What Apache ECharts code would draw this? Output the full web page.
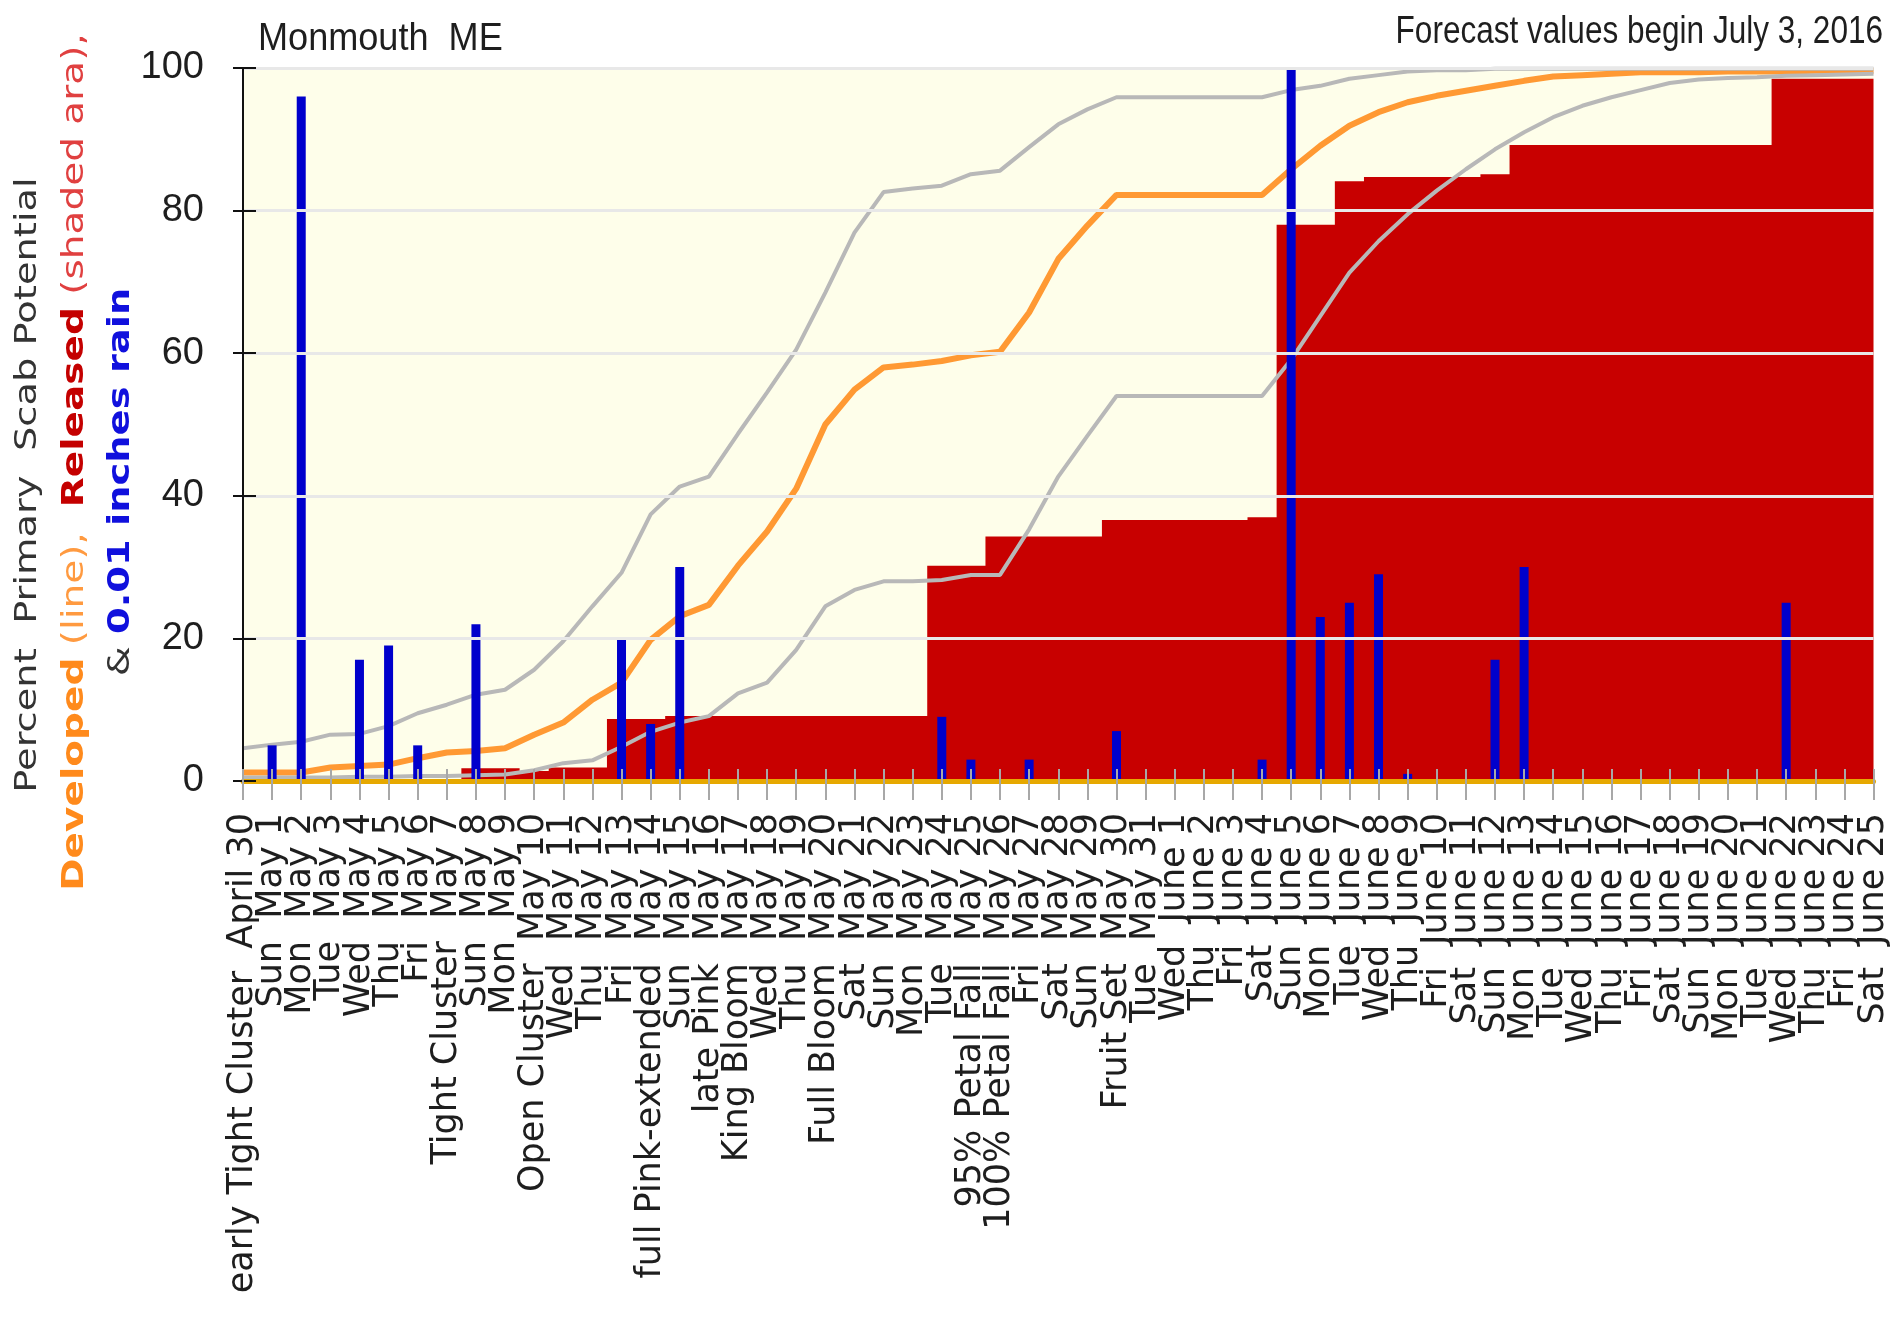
<!DOCTYPE html>
<html>
<head>
<meta charset="utf-8">
<script src="https://cdn.jsdelivr.net/npm/echarts@6/dist/echarts.min.js"></script>
<style>
html,body{margin:0;padding:0;background:#fff;}
#chart{width:1891px;height:1327px;}
</style>
</head>
<body>
<div id="chart"></div>
<script>
const titleText = 'Monmouth  ME';
const forecastText = 'Forecast values begin July 3, 2016';

const categories = [
  'early Tight Cluster  April 30','Sun  May 1','Mon  May 2','Tue  May 3','Wed  May 4','Thu  May 5','Fri  May 6',
  'Tight Cluster  May 7','Sun  May 8','Mon  May 9','Open Cluster  May 10','Wed  May 11','Thu  May 12','Fri  May 13',
  'full Pink-extended  May 14','Sun  May 15','late Pink  May 16','King Bloom  May 17','Wed  May 18','Thu  May 19',
  'Full Bloom  May 20','Sat  May 21','Sun  May 22','Mon  May 23','Tue  May 24','95% Petal Fall  May 25',
  '100% Petal Fall  May 26','Fri  May 27','Sat  May 28','Sun  May 29','Fruit Set  May 30','Tue  May 31',
  'Wed  June 1','Thu  June 2','Fri  June 3','Sat  June 4','Sun  June 5','Mon  June 6','Tue  June 7','Wed  June 8',
  'Thu  June 9','Fri  June 10','Sat  June 11','Sun  June 12','Mon  June 13','Tue  June 14','Wed  June 15',
  'Thu  June 16','Fri  June 17','Sat  June 18','Sun  June 19','Mon  June 20','Tue  June 21','Wed  June 22',
  'Thu  June 23','Fri  June 24','Sat  June 25'
];

// rain in 0.01 inches
const rain = [0,5,96,0,17,19,5,0,22,0, 0,0,0,20,8,30,0,0,0,0, 0,0,0,0,9,3,0,3,0,0,
  7,0,0,0,0,3,100,23,25,29, 1,0,0,17,30,0,0,0,0,0, 0,0,0,25,0,0,0];

// released (shaded area, %)
const released = [0,0,0,0,0,0,0,0,1.8,1.8, 1.4,1.9,1.9,8.7,8.7,9.1,9.1,9.1,9.1,9.1,
  9.1,9.1,9.1,9.1,30.2,30.2,34.3,34.3,34.3,34.3, 36.6,36.6,36.6,36.6,36.6,37.0,78,78,84.1,84.7,
  84.7,84.7,84.7,85.1,89.2,89.2,89.2,89.2,89.2,89.2, 89.2,89.2,89.2,98.5,98.5,98.5,98.5];

// developed (line, %)
const developed = [1.2,1.2,1.2,1.9,2.1,2.3,3.2,4.0,4.2,4.6, 6.5,8.2,11.4,13.8,19.8,23.1,24.7,30.2,35.0,41.0,
  50.0,54.9,58.0,58.4,58.9,59.7,60.2,65.7,73.2,77.9, 82.2,82.2,82.2,82.2,82.2,82.2,85.8,89.1,91.9,93.8,
  95.2,96.1,96.8,97.5,98.2,98.8,99.0,99.2,99.4,99.4, 99.4,99.5,99.5,99.5,99.6,99.6,99.6];

// upper / lower bounds of developed (grey lines, %)
const upperBound = [4.6,5.1,5.5,6.5,6.6,7.7,9.5,10.7,12.1,12.8, 15.6,19.6,24.5,29.2,37.4,41.3,42.7,48.7,54.5,60.5,
  68.5,76.9,82.6,83.1,83.5,85.1,85.6,88.9,92.1,94.2, 95.9,95.9,95.9,95.9,95.9,95.9,96.9,97.5,98.5,99.0,
  99.5,99.7,99.7,99.9,99.9,99.9,99.9,99.9,99.9,99.9, 99.9,99.9,99.9,99.9,99.9,99.9,99.9];
const lowerBound = [0.5,0.5,0.5,0.5,0.6,0.6,0.7,0.7,0.8,0.9, 1.5,2.5,2.9,4.8,6.9,8.2,9.1,12.3,13.8,18.4,
  24.5,26.8,28.0,28.0,28.2,28.9,28.9,35.3,42.7,48.4, 54.0,54.0,54.0,54.0,54.0,54.0,59.1,65.2,71.3,75.7,
  79.5,82.8,85.8,88.6,91.0,93.1,94.7,95.9,96.9,97.9, 98.4,98.6,98.7,98.9,99.0,99.1,99.2];

const yMin = 0, yMax = 100, yStep = 20;

const chart = echarts.init(document.getElementById('chart'), null, {renderer: 'canvas'});

const gridLeft = 243, gridTop = 68, gridRight = 11, gridBottom = 546;

const option = {
  animation: false,
  backgroundColor: '#ffffff',
  grid: {left: gridLeft, top: gridTop, right: gridRight, bottom: gridBottom, show: true,
         backgroundColor: '#fefeea', borderWidth: 0},
  xAxis: [{
    type: 'category', data: categories, boundaryGap: false, position: 'bottom', z: 10,
    axisLine: {show: true, onZero: false, lineStyle: {color: '#e6a800', width: 5}},
    axisTick: {show: true, inside: false, length: 19, interval: 0, lineStyle: {color: '#a8a8a8', width: 2}},
    axisLabel: {show: true, interval: 0, rotate: 90, margin: 32, color: '#1e1e1e',
      fontFamily: 'DejaVu Sans', fontSize: 35},
    splitLine: {show: false}
  }, {
    type: 'category', data: categories, boundaryGap: false, position: 'bottom', z: 10,
    axisLine: {show: false},
    axisTick: {show: true, inside: true, length: 12, interval: 0, lineStyle: {color: '#a8a8a8', width: 2}},
    axisLabel: {show: false}, splitLine: {show: false}
  }],
  yAxis: [{
    type: 'value', min: yMin, max: yMax, interval: yStep, position: 'left', z: 10,
    axisLine: {show: true, lineStyle: {color: '#111', width: 2}},
    axisTick: {show: true, inside: false, length: 10, lineStyle: {color: '#111', width: 2}},
    axisLabel: {show: true, margin: 39, color: '#1e1e1e',
      fontFamily: "'Liberation Sans Narrow', 'Liberation Sans', sans-serif", fontSize: 38},
    splitLine: {show: true, lineStyle: {color: '#e8e8e8', width: 3}}
  }, {
    type: 'value', min: yMin, max: yMax, interval: yStep, position: 'left', z: 10,
    axisLine: {show: false},
    axisTick: {show: true, inside: true, length: 13, lineStyle: {color: '#111', width: 2}},
    axisLabel: {show: false}, splitLine: {show: false}
  }],
  series: [
    {name: 'Released', type: 'line', data: released, step: 'middle', symbol: 'none',
     lineStyle: {width: 0, color: '#c80000'}, areaStyle: {color: '#c80000', opacity: 1}, z: 2},
    {name: 'Developed', type: 'line', data: developed, symbol: 'none',
     lineStyle: {width: 6, color: '#ff9933'}, z: 3},
    {name: 'Upper', type: 'line', data: upperBound, symbol: 'none',
     lineStyle: {width: 4, color: '#b8b8b8'}, z: 4},
    {name: 'Lower', type: 'line', data: lowerBound, symbol: 'none',
     lineStyle: {width: 4, color: '#b8b8b8'}, z: 4},
    {name: 'Rain', type: 'bar', data: rain, barWidth: 9, itemStyle: {color: '#0000cc'}, z: 5}
  ],
  graphic: [
    {type: 'text', x: 258, y: 40, scaleX: 0.95,
     style: {text: titleText, fill: '#1e1e1e', font: '38px "Liberation Sans", Arial, sans-serif',
             align: 'left', verticalAlign: 'middle'}},
    {type: 'text', x: 1883, y: 33, scaleX: 0.83,
     style: {text: forecastText, fill: '#1e1e1e', font: '38px "Liberation Sans", Arial, sans-serif',
             align: 'right', verticalAlign: 'middle'}},
    {type: 'text', x: 28, y: 485, rotation: Math.PI / 2, scaleX: 1.28,
     style: {text: 'Percent  Primary  Scab Potential', fill: '#333333',
             font: '30px "DejaVu Sans", sans-serif', align: 'center', verticalAlign: 'middle'}},
    {type: 'text', x: 75, y: 462, rotation: Math.PI / 2, scaleX: 1.30,
     style: {text: '{ob|Developed}{o| (line),}  {rb|Released}{r| (shaded ara),}',
             font: '30px "DejaVu Sans", sans-serif', align: 'center', verticalAlign: 'middle',
             rich: {
               ob: {fill: '#ff8a1c', fontWeight: 'bold', fontSize: 30, fontFamily: 'DejaVu Sans'},
               o: {fill: '#ff9a40', fontSize: 30, fontFamily: 'DejaVu Sans'},
               rb: {fill: '#c40000', fontWeight: 'bold', fontSize: 30, fontFamily: 'DejaVu Sans'},
               r: {fill: '#e04040', fontSize: 30, fontFamily: 'DejaVu Sans'}
             }}},
    {type: 'text', x: 121, y: 482, rotation: Math.PI / 2, scaleX: 1.28,
     style: {text: '{k|&} {b|0.01 inches rain}',
             font: '30px "DejaVu Sans", sans-serif', align: 'center', verticalAlign: 'middle',
             rich: {
               k: {fill: '#333333', fontSize: 30, fontFamily: 'DejaVu Sans'},
               b: {fill: '#1010dd', fontWeight: 'bold', fontSize: 30, fontFamily: 'DejaVu Sans'}
             }}}
  ]
};
chart.setOption(option);
</script>
</body>
</html>
